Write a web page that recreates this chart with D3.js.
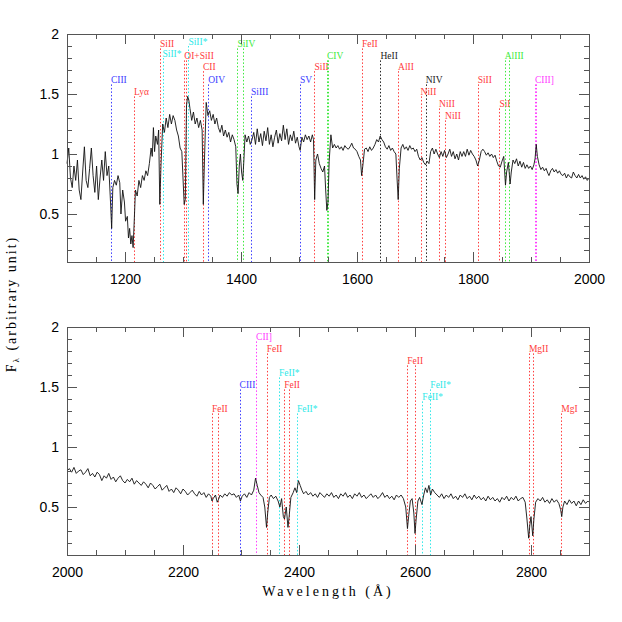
<!DOCTYPE html>
<html>
<head>
<meta charset="utf-8">
<script src="https://cdn.jsdelivr.net/npm/d3@7"></script>
<style>
body { margin: 0; background: #fff; }
</style>
</head>
<body>
<div id="chart"></div>
<script>
// spectrum, upper panel (1100-2000 A)
const wave1 = [1100,1103,1106,1109,1112,1115,1118,1121,1124,1127,1130,1133,1136,1139,1142,1145,1148,1151,1154,1157,1160,1163,1166,1169,1172,1175,1177,1179,1182,1185,1188,1191,1193,1196,1199,1201,1204,1206,1208,1210,1212,1214,1216,1218,1221,1224,1227,1230,1233,1236,1239,1242,1245,1247,1249,1251,1253,1256,1258,1260,1262,1265,1268,1271,1274,1277,1280,1283,1286,1289,1292,1295,1298,1300,1302,1304,1306,1308,1310,1312,1315,1318,1321,1324,1327,1330,1333,1335,1337,1340,1343,1346,1349,1352,1355,1358,1361,1364,1367,1370,1373,1376,1379,1382,1385,1388,1391,1393,1395,1397,1399,1401,1403,1405,1407,1410,1413,1416,1419,1422,1425,1428,1431,1434,1437,1440,1443,1446,1449,1452,1455,1458,1461,1464,1467,1470,1473,1476,1479,1482,1485,1488,1491,1494,1497,1500,1502,1505,1508,1511,1514,1517,1520,1523,1525,1527,1529,1532,1535,1538,1541,1544,1546,1548,1550,1552,1555,1558,1561,1564,1567,1570,1573,1576,1579,1582,1585,1588,1591,1594,1597,1600,1603,1606,1608,1610,1613,1616,1619,1622,1625,1628,1631,1634,1637,1640,1643,1646,1649,1652,1655,1658,1661,1664,1667,1669,1671,1673,1676,1679,1682,1685,1688,1691,1694,1697,1700,1703,1706,1709,1712,1715,1718,1721,1724,1727,1730,1733,1736,1739,1742,1745,1748,1751,1754,1757,1760,1763,1766,1769,1772,1775,1778,1781,1784,1787,1790,1793,1796,1799,1802,1805,1808,1811,1814,1817,1820,1823,1826,1829,1832,1835,1838,1841,1844,1847,1850,1853,1856,1858,1861,1864,1866,1869,1872,1875,1878,1881,1884,1887,1890,1893,1896,1899,1902,1905,1907,1909,1911,1914,1917,1920,1923,1926,1929,1931,1934,1937,1940,1943,1946,1949,1952,1955,1958,1961,1964,1967,1970,1973,1976,1979,1982,1985,1988,1991,1994,1997,2000];
const flux1 = [0.92,1.05,0.80,0.72,0.90,0.78,0.95,0.70,0.62,0.85,1.06,0.78,0.72,0.88,1.05,0.82,0.68,0.90,0.62,0.80,0.95,0.78,1.02,0.82,0.90,0.60,0.38,0.72,0.78,0.74,0.82,0.76,0.50,0.70,0.60,0.44,0.48,0.30,0.38,0.25,0.32,0.22,0.45,0.70,0.65,0.78,0.72,0.82,0.78,0.86,0.82,0.92,1.05,0.98,1.22,1.02,1.15,1.08,1.20,0.58,0.90,1.25,1.18,1.30,1.22,1.33,1.25,1.32,1.28,1.20,1.15,1.05,1.02,0.80,0.58,0.62,1.40,1.48,1.45,1.38,1.28,1.35,1.25,1.30,1.22,1.28,1.20,0.58,0.95,1.43,1.32,1.36,1.28,1.33,1.25,1.30,1.22,1.18,1.24,1.15,1.20,1.14,1.18,1.10,1.16,1.12,1.06,0.75,0.67,0.90,1.00,0.85,0.78,0.95,1.16,1.10,1.15,1.08,1.12,1.18,1.08,1.21,1.10,1.17,1.07,1.19,1.11,1.22,1.08,1.16,1.06,1.14,1.20,1.09,1.17,1.11,1.24,1.12,1.21,1.08,1.16,1.11,1.19,1.09,1.14,1.06,1.03,1.14,1.10,1.16,1.12,1.15,1.10,1.16,1.12,0.62,0.95,1.00,0.92,0.88,0.85,0.90,0.70,0.53,0.60,0.94,1.16,1.05,1.08,1.05,1.07,1.04,1.06,1.03,1.07,1.05,1.04,1.06,1.09,1.05,1.04,1.02,0.98,0.95,0.82,0.90,1.04,1.05,1.02,1.06,1.03,1.05,1.08,1.12,1.10,1.15,1.12,1.10,1.06,1.04,1.07,1.03,1.05,1.02,1.00,0.80,0.62,0.88,1.05,1.08,1.04,1.06,1.03,1.07,1.04,1.05,1.02,1.04,0.98,0.95,0.97,0.93,0.91,0.94,0.92,1.02,1.05,1.00,1.04,1.00,0.97,1.02,0.98,1.03,0.97,1.00,1.04,0.98,1.02,0.96,1.00,0.95,1.02,0.98,1.02,0.98,1.04,0.99,1.03,1.00,0.98,0.95,0.90,0.95,1.02,1.04,1.02,0.99,1.01,0.98,1.00,0.97,0.99,0.94,0.90,0.89,0.94,0.98,0.74,0.85,0.93,0.75,0.85,0.95,0.92,0.96,0.90,0.94,0.89,0.93,0.88,0.91,0.88,0.90,0.87,0.91,0.96,1.08,0.98,0.91,0.87,0.89,0.86,0.88,0.84,0.82,0.86,0.88,0.85,0.87,0.84,0.86,0.83,0.82,0.84,0.80,0.83,0.81,0.80,0.85,0.82,0.80,0.83,0.80,0.82,0.79,0.81,0.78,0.80];

// spectrum, lower panel (2000-2900 A)
const wave2 = [2000,2004,2008,2012,2016,2020,2024,2028,2032,2036,2040,2044,2048,2052,2056,2060,2064,2068,2072,2076,2080,2084,2088,2092,2096,2100,2104,2108,2112,2116,2120,2124,2128,2132,2136,2140,2144,2148,2152,2156,2160,2164,2168,2172,2176,2180,2184,2188,2192,2196,2200,2204,2208,2212,2216,2220,2224,2228,2232,2236,2240,2244,2248,2250,2252,2256,2259,2261,2264,2268,2272,2276,2280,2284,2288,2292,2296,2299,2302,2306,2310,2314,2318,2322,2325,2328,2331,2334,2338,2341,2344,2346,2349,2352,2356,2360,2364,2367,2370,2373,2375,2378,2381,2383,2386,2390,2393,2396,2399,2402,2405,2408,2412,2416,2420,2424,2428,2432,2436,2440,2444,2448,2452,2456,2460,2464,2468,2472,2476,2480,2484,2488,2492,2496,2500,2504,2508,2512,2516,2520,2524,2528,2532,2536,2540,2544,2548,2552,2556,2560,2564,2568,2572,2576,2580,2584,2587,2589,2592,2595,2598,2600,2602,2605,2608,2612,2615,2618,2621,2624,2627,2630,2634,2638,2642,2646,2650,2654,2658,2662,2666,2670,2674,2678,2682,2686,2690,2694,2698,2702,2706,2710,2714,2718,2722,2726,2730,2734,2738,2742,2746,2750,2754,2758,2762,2766,2770,2774,2778,2782,2786,2790,2793,2796,2798,2800,2803,2805,2808,2812,2816,2820,2824,2828,2832,2836,2840,2844,2848,2851,2853,2855,2858,2862,2866,2870,2874,2878,2882,2886,2890,2894,2898,2900];
const flux2 = [0.80,0.82,0.79,0.83,0.78,0.80,0.81,0.77,0.79,0.82,0.76,0.78,0.75,0.79,0.77,0.72,0.76,0.74,0.78,0.73,0.75,0.71,0.74,0.76,0.72,0.70,0.73,0.71,0.74,0.69,0.72,0.70,0.68,0.71,0.69,0.66,0.70,0.68,0.65,0.67,0.69,0.64,0.66,0.68,0.63,0.65,0.62,0.66,0.64,0.61,0.65,0.63,0.60,0.62,0.64,0.61,0.59,0.63,0.60,0.62,0.58,0.61,0.59,0.55,0.57,0.60,0.54,0.56,0.60,0.58,0.61,0.59,0.62,0.60,0.61,0.58,0.60,0.55,0.59,0.61,0.58,0.62,0.60,0.64,0.74,0.68,0.62,0.60,0.58,0.50,0.33,0.45,0.58,0.60,0.57,0.59,0.55,0.50,0.57,0.42,0.40,0.50,0.33,0.42,0.58,0.62,0.66,0.62,0.72,0.68,0.64,0.61,0.63,0.60,0.62,0.59,0.61,0.58,0.62,0.60,0.58,0.61,0.59,0.62,0.58,0.60,0.57,0.61,0.59,0.62,0.58,0.60,0.57,0.61,0.59,0.62,0.58,0.60,0.57,0.59,0.61,0.58,0.60,0.57,0.59,0.62,0.58,0.60,0.57,0.59,0.56,0.60,0.58,0.60,0.57,0.50,0.32,0.42,0.55,0.57,0.45,0.28,0.40,0.55,0.58,0.52,0.60,0.66,0.62,0.68,0.60,0.65,0.62,0.60,0.58,0.61,0.57,0.60,0.58,0.61,0.57,0.59,0.56,0.60,0.58,0.61,0.57,0.59,0.56,0.60,0.57,0.59,0.56,0.58,0.55,0.59,0.56,0.58,0.55,0.57,0.54,0.58,0.56,0.59,0.55,0.58,0.56,0.59,0.55,0.57,0.58,0.54,0.40,0.24,0.35,0.42,0.26,0.40,0.54,0.57,0.55,0.58,0.54,0.56,0.53,0.57,0.54,0.56,0.53,0.48,0.42,0.50,0.55,0.52,0.56,0.53,0.55,0.51,0.55,0.52,0.56,0.53,0.55,0.54];

// line identifications, upper panel
const lineNames1 = ["CIII","Lyα","SiII","SiII*","SiII*","OI+SiII","CII","OIV","SiIV","SiIII","SV","SiII","CIV","FeII","HeII","AlII","NIV","NiII","NiII","NiII","SiII","SiI","AlIII","CIII]"];
const lineWaves1 = [[1175.7],[1215.7],[1260.4],[1264.7],[1309.3],[1302.2,1304.4],[1334.5],[1343.5],[1393.8,1402.8],[1417.2],[1501.8],[1526.7],[1548.2,1550.8],[1608.5],[1640.4],[1670.8],[1718.5],[1709.6],[1741.5],[1751.9],[1808.0],[1845.5],[1854.7,1862.8],[1906.7,1908.7]];
const lineTops1 = [1.58,1.48,1.88,1.80,1.90,1.78,1.69,1.58,1.88,1.48,1.58,1.69,1.78,1.88,1.78,1.69,1.58,1.48,1.38,1.28,1.58,1.38,1.78,1.58];
const lineKinds1 = ["b","r","r","c","c","r","r","b","g","b","b","r","g","r","k","r","k","r","r","r","r","r","g","m"];

// line identifications, lower panel
const lineNames2 = ["FeII","CIII","CII]","FeII","FeII*","FeII","FeII*","FeII","FeII*","FeII*","MgII","MgI"];
const lineWaves2 = [[2249.9,2260.8],[2297.6],[2326.0],[2344.2],[2365.6],[2374.5,2382.8],[2396.4],[2586.7,2600.2],[2612.7],[2626.5],[2796.4,2803.5],[2852.1]];
const lineTops2 = [1.28,1.48,1.88,1.78,1.58,1.48,1.28,1.68,1.38,1.48,1.78,1.28];
const lineKinds2 = ["r","b","m","r","c","r","c","r","c","c","r","r"];

const xTicks1 = [1200, 1400, 1600, 1800, 2000];
const xTicks2 = [2000, 2200, 2400, 2600, 2800];
const yTicks = [0.5, 1, 1.5, 2];

const kindColor = {r: "#ff3c3c", b: "#3c3cff", c: "#2ee8e8", g: "#3cea3c", m: "#ff3cff", k: "#222"};

const W = 622, H = 622;
const left = 67, right = 589, panelH = 228;

const svg = d3.select("#chart").append("svg")
    .attr("width", W)
    .attr("height", H);

const panels = [
    {x0: 1100, x1: 2000, top: 34, wave: wave1, flux: flux1, xt: xTicks1,
     names: lineNames1, waves: lineWaves1, tops: lineTops1, kinds: lineKinds1},
    {x0: 2000, x1: 2900, top: 327, wave: wave2, flux: flux2, xt: xTicks2,
     names: lineNames2, waves: lineWaves2, tops: lineTops2, kinds: lineKinds2}
];

panels.forEach(p => {
    const x = d3.scaleLinear().domain([p.x0, p.x1]).range([left, right]);
    const y = d3.scaleLinear().domain([0.1, 2]).range([p.top + panelH, p.top]);
    const g = svg.append("g");

    // identification lines + labels
    const ids = g.append("g");
    p.names.forEach((name, i) => {
        const col = kindColor[p.kinds[i]];
        p.waves[i].forEach(w => {
            ids.append("line")
                .attr("x1", Math.round(x(w)) + 0.5).attr("x2", Math.round(x(w)) + 0.5)
                .attr("y1", y(p.tops[i])).attr("y2", y(0.1))
                .attr("stroke", col)
                .attr("stroke-width", 1)
                .attr("stroke-dasharray", "1.5,2");
        });
        ids.append("text")
            .attr("x", x(p.waves[i][0]))
            .attr("y", y(p.tops[i]) - 1.5)
            .attr("fill", col)
            .attr("font-family", "Liberation Serif, serif")
            .attr("font-size", 9.5)
            .text(name);
    });

    // spectrum
    const line = d3.line()
        .x((d, i) => x(p.wave[i]))
        .y(d => y(d));
    g.append("path")
        .datum(p.flux)
        .attr("d", line)
        .attr("fill", "none")
        .attr("stroke", "#111")
        .attr("stroke-width", 0.9);

    const h = p.top + panelH;
    const xMinor = d3.range(p.x0, p.x1 + 1, 50).filter(v => v % 200 !== 0);
    const yMinor = d3.range(1, 20).map(v => v / 10).filter(v => Math.abs(v * 2 - Math.round(v * 2)) > 1e-6);
    const noDomain = s => s.select(".domain").remove();
    const tickStyle = s => s.selectAll("line").attr("stroke", "#555");
    const fontStyle = s => s.selectAll("text")
        .attr("font-family", "Liberation Sans, Arial, sans-serif")
        .attr("font-size", 14)
        .attr("fill", "#000");

    // major ticks with labels
    g.append("g").attr("transform", `translate(0,${h})`)
        .call(d3.axisBottom(x).tickValues(p.xt).tickSize(-10).tickPadding(12).tickFormat(d => d))
        .call(noDomain).call(tickStyle).call(fontStyle);
    g.append("g").attr("transform", `translate(0,${p.top})`)
        .call(d3.axisTop(x).tickValues(p.xt).tickSize(-10).tickFormat(""))
        .call(noDomain).call(tickStyle);
    g.append("g").attr("transform", `translate(${left},0)`)
        .call(d3.axisLeft(y).tickValues(yTicks).tickSize(-10).tickPadding(8).tickFormat(d => String(d)))
        .call(noDomain).call(tickStyle).call(fontStyle);
    g.append("g").attr("transform", `translate(${right},0)`)
        .call(d3.axisRight(y).tickValues(yTicks).tickSize(-10).tickFormat(""))
        .call(noDomain).call(tickStyle);

    // minor ticks
    g.append("g").attr("transform", `translate(0,${h})`)
        .call(d3.axisBottom(x).tickValues(xMinor).tickSize(-5).tickFormat(""))
        .call(noDomain).call(tickStyle);
    g.append("g").attr("transform", `translate(0,${p.top})`)
        .call(d3.axisTop(x).tickValues(xMinor).tickSize(-5).tickFormat(""))
        .call(noDomain).call(tickStyle);
    g.append("g").attr("transform", `translate(${left},0)`)
        .call(d3.axisLeft(y).tickValues(yMinor).tickSize(-5).tickFormat(""))
        .call(noDomain).call(tickStyle);
    g.append("g").attr("transform", `translate(${right},0)`)
        .call(d3.axisRight(y).tickValues(yMinor).tickSize(-5).tickFormat(""))
        .call(noDomain).call(tickStyle);

    // frame
    g.append("rect")
        .attr("x", left + 0.5).attr("y", p.top + 0.5)
        .attr("width", right - left).attr("height", panelH)
        .attr("fill", "none")
        .attr("stroke", "#555");
});

// axis titles
svg.append("text")
    .attr("x", (left + right) / 2)
    .attr("y", 596)
    .attr("text-anchor", "middle")
    .attr("font-family", "Liberation Serif, serif")
    .attr("font-size", 14)
    .attr("letter-spacing", 3)
    .text("Wavelength (Å)");

const yt = svg.append("text")
    .attr("transform", "translate(16,304) rotate(-90)")
    .attr("text-anchor", "middle")
    .attr("font-family", "Liberation Serif, serif")
    .attr("font-size", 14)
    .attr("letter-spacing", 2);
yt.append("tspan").text("F");
yt.append("tspan").attr("font-size", 9).attr("dy", 3).text("λ");
yt.append("tspan").attr("dy", -3).text(" (arbitrary unit)");
</script>
</body>
</html>
